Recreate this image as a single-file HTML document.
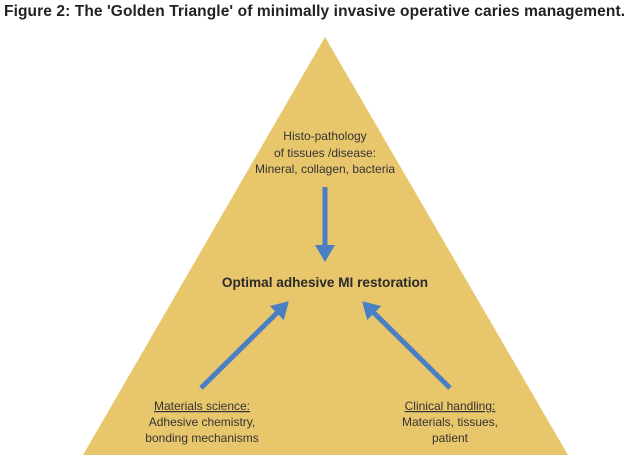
<!DOCTYPE html>
<html><head><meta charset="utf-8"><style>
html,body{margin:0;padding:0;background:#fff;}
body{width:631px;height:464px;overflow:hidden;position:relative;font-family:"Liberation Sans","DejaVu Sans",sans-serif;}
.t{position:absolute;left:4px;top:3px;font-weight:bold;font-size:15.5px;color:#222;white-space:nowrap;letter-spacing:0.1px;}
svg{position:absolute;left:0;top:0;}
</style></head><body>
<div class="t">Figure 2: The 'Golden Triangle' of minimally invasive operative caries management.</div>
<svg width="631" height="464" viewBox="0 0 631 464">
<defs><marker id="a" markerWidth="4" markerHeight="4" refX="2.6" refY="2" orient="auto" markerUnits="strokeWidth"><path d="M0,0 L3.4,2 L0,4 Z" fill="#4a7fc4"/></marker></defs>
<polygon points="325,37 568,455 83,455" fill="#e8c76c"/>
<g stroke="#4a7fc4" stroke-width="5" fill="none">
<line x1="325" y1="187" x2="325" y2="258" marker-end="url(#a)"/>
<line x1="201" y1="388" x2="286" y2="304" marker-end="url(#a)"/>
<line x1="450" y1="388" x2="365" y2="304" marker-end="url(#a)"/>
</g>
<g font-family="Liberation Sans, DejaVu Sans, sans-serif" fill="#333" text-anchor="middle" font-size="12">
<text x="325" y="140">Histo-pathology</text>
<text x="325" y="157">of tissues /disease:</text>
<text x="325" y="173">Mineral, collagen, bacteria</text>
<text x="325" y="287" font-size="13.6" font-weight="bold" fill="#2a2a2a">Optimal adhesive MI restoration</text>
<text x="202" y="410" text-decoration="underline">Materials science:</text>
<text x="202" y="426">Adhesive chemistry,</text>
<text x="202" y="442">bonding mechanisms</text>
<text x="450" y="410" text-decoration="underline">Clinical handling:</text>
<text x="450" y="426">Materials, tissues,</text>
<text x="450" y="442">patient</text>
</g>
</svg>
</body></html>
